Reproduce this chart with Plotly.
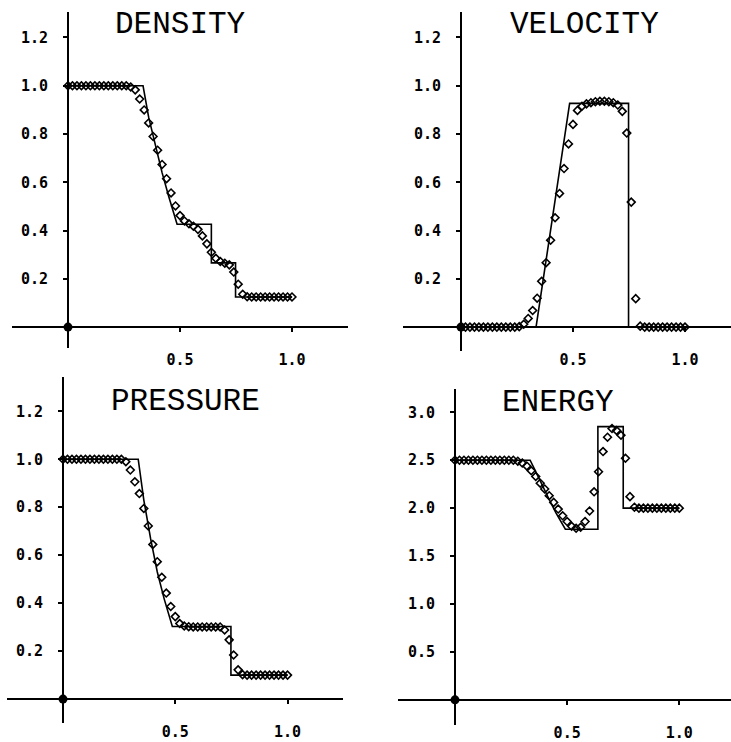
import plotly.graph_objects as go

W, H = 731, 742

# ---------------- data ----------------
x_cells = [0.00, 0.02, 0.04, 0.06, 0.08, 0.10, 0.12, 0.14, 0.16, 0.18,
           0.20, 0.22, 0.24, 0.26, 0.28, 0.30, 0.32, 0.34, 0.36, 0.38,
           0.40, 0.42, 0.44, 0.46, 0.48, 0.50, 0.52, 0.54, 0.56, 0.58,
           0.60, 0.62, 0.64, 0.66, 0.68, 0.70, 0.72, 0.74, 0.76, 0.78,
           0.80, 0.82, 0.84, 0.86, 0.88, 0.90, 0.92, 0.94, 0.96, 0.98, 1.00]

density_num = [1.0, 1.0, 1.0, 1.0, 1.0, 1.0, 1.0, 1.0, 1.0, 1.0,
               1.0, 1.0, 1.0, 1.0, 0.995, 0.983, 0.945, 0.90, 0.846, 0.79,
               0.733, 0.674, 0.615, 0.556, 0.502, 0.462, 0.44, 0.428, 0.418, 0.405,
               0.378, 0.345, 0.31, 0.285, 0.272, 0.265, 0.258, 0.228, 0.178, 0.136,
               0.126, 0.125, 0.125, 0.125, 0.125, 0.125, 0.125, 0.125, 0.125, 0.125, 0.125]

velocity_num = [0.0, 0.0, 0.0, 0.0, 0.0, 0.0, 0.0, 0.0, 0.0, 0.0,
                0.0, 0.0, 0.0, 0.002, 0.012, 0.036, 0.069, 0.12, 0.19, 0.267,
                0.36, 0.453, 0.554, 0.657, 0.759, 0.84, 0.898, 0.915, 0.925, 0.93,
                0.934, 0.936, 0.936, 0.934, 0.93, 0.92, 0.894, 0.804, 0.518, 0.118,
                0.004, 0.0, 0.0, 0.0, 0.0, 0.0, 0.0, 0.0, 0.0, 0.0, 0.0]

pressure_num = [1.0, 1.0, 1.0, 1.0, 1.0, 1.0, 1.0, 1.0, 1.0, 1.0,
                1.0, 1.0, 1.0, 1.0, 0.99, 0.955, 0.906, 0.857, 0.795, 0.722,
                0.645, 0.573, 0.508, 0.442, 0.386, 0.344, 0.315, 0.305, 0.302, 0.301,
                0.301, 0.301, 0.301, 0.301, 0.301, 0.301, 0.288, 0.247, 0.184, 0.122,
                0.102, 0.1, 0.1, 0.1, 0.1, 0.1, 0.1, 0.1, 0.1, 0.1, 0.1]

energy_num = [2.5, 2.5, 2.5, 2.5, 2.5, 2.5, 2.5, 2.5, 2.5, 2.5,
              2.5, 2.5, 2.5, 2.5, 2.49, 2.47, 2.44, 2.39, 2.33, 2.26,
              2.20, 2.13, 2.06, 1.99, 1.92, 1.86, 1.81, 1.79, 1.80, 1.86,
              1.97, 2.17, 2.38, 2.59, 2.74, 2.83, 2.81, 2.76, 2.52, 2.12,
              2.01, 2.0, 2.0, 2.0, 2.0, 2.0, 2.0, 2.0, 2.0, 2.0, 2.0]

density_exact_x = [0.0, 0.335, 0.36, 0.39, 0.42, 0.45, 0.487, 0.64, 0.64, 0.748, 0.748, 1.0]
density_exact_y = [1.0, 1.0, 0.87, 0.75, 0.64, 0.54, 0.426, 0.426, 0.266, 0.266, 0.125, 0.125]

velocity_exact_x = [0.0, 0.335, 0.485, 0.748, 0.748, 1.0]
velocity_exact_y = [0.0, 0.0, 0.927, 0.927, 0.0, 0.0]

pressure_exact_x = [0.0, 0.335, 0.36, 0.39, 0.42, 0.45, 0.487, 0.748, 0.748, 1.0]
pressure_exact_y = [1.0, 1.0, 0.83, 0.67, 0.53, 0.42, 0.303, 0.303, 0.1, 0.1]

energy_exact_x = [0.0, 0.335, 0.36, 0.39, 0.42, 0.45, 0.492, 0.637, 0.637, 0.75, 0.75, 1.0]
energy_exact_y = [2.5, 2.5, 2.38, 2.23, 2.09, 1.95, 1.78, 1.78, 2.85, 2.85, 2.0, 2.0]

titles = ["DENSITY", "VELOCITY", "PRESSURE", "ENERGY"]
x_ticks = [0.5, 1.0]
y_ticks_small = [0.2, 0.4, 0.6, 0.8, 1.0, 1.2]
y_ticks_energy = [0.5, 1.0, 1.5, 2.0, 2.5, 3.0]

# ---------------- layout geometry (pixels) ----------------
panels = [
    dict(x0=68, sx=224, y0=328, sy=242, xl=(12, 348), yl=(12, 349), t=(180, 25)),
    dict(x0=461, sx=224, y0=328, sy=242, xl=(403, 731), yl=(12, 352), t=(584, 25)),
    dict(x0=63, sx=224.5, y0=701, sy=240.5, xl=(7, 343), yl=(378, 725), t=(185, 403)),
    dict(x0=455, sx=224.3, y0=701.7, sy=96.1, xl=(398, 731), yl=(390, 727), t=(558, 404)),
]
num_series = [density_num, velocity_num, pressure_num, energy_num]
exact_series = [(density_exact_x, density_exact_y), (velocity_exact_x, velocity_exact_y),
                (pressure_exact_x, pressure_exact_y), (energy_exact_x, energy_exact_y)]
yticks = [y_ticks_small, y_ticks_small, y_ticks_small, y_ticks_energy]

fig = go.Figure()
tickfont = dict(family="DejaVu Sans Mono", size=15, color="black", weight="bold")

for i, p in enumerate(panels):
    n = i + 1
    xa = "x" if n == 1 else f"x{n}"
    ya = "y" if n == 1 else f"y{n}"
    ex, ey = exact_series[i]
    fig.add_trace(go.Scatter(x=ex, y=ey, mode="lines", xaxis=xa, yaxis=ya,
                             line=dict(color="black", width=1.6), showlegend=False))
    fig.add_trace(go.Scatter(x=x_cells, y=num_series[i], mode="markers", xaxis=xa, yaxis=ya,
                             marker=dict(symbol="diamond-open", size=6,
                                         color="black", line=dict(color="black", width=1.6)),
                             showlegend=False))
    fig.add_trace(go.Scatter(x=[0], y=[0], mode="markers", xaxis=xa, yaxis=ya,
                             marker=dict(symbol="circle", size=9, color="black"),
                             showlegend=False))

    xr = [(p["xl"][0] - p["x0"]) / p["sx"], (p["xl"][1] - p["x0"]) / p["sx"]]
    yr = [(p["y0"] - p["yl"][1]) / p["sy"], (p["y0"] - p["yl"][0]) / p["sy"]]
    xdom = [p["xl"][0] / W, p["xl"][1] / W]
    ydom = [1 - p["yl"][1] / H, 1 - p["yl"][0] / H]
    xkey = "xaxis" if n == 1 else f"xaxis{n}"
    ykey = "yaxis" if n == 1 else f"yaxis{n}"
    fig.layout[xkey] = dict(domain=xdom, range=xr, anchor="free",
                            position=1 - p["y0"] / H,
                            showgrid=False, zeroline=False, showline=True,
                            linecolor="black", linewidth=2,
                            tickvals=x_ticks, tickformat=".1f", ticks="outside",
                            ticklen=4, tickwidth=2, tickcolor="black",
                            tickfont=tickfont, ticklabelstandoff=15, fixedrange=True)
    fig.layout[ykey] = dict(domain=ydom, range=yr, anchor="free",
                            position=p["x0"] / W,
                            showgrid=False, zeroline=False, showline=True,
                            linecolor="black", linewidth=2,
                            tickvals=yticks[i], tickformat=".1f", ticks="outside",
                            ticklen=4, tickwidth=2, tickcolor="black",
                            tickfont=tickfont, ticklabelstandoff=12, fixedrange=True)
    fig.add_annotation(text=titles[i], xref="paper", yref="paper",
                       x=p["t"][0] / W, y=1 - p["t"][1] / H,
                       xanchor="center", yanchor="middle", showarrow=False,
                       font=dict(family="Liberation Mono", size=31, color="black"))

fig.update_layout(width=W, height=H, margin=dict(l=0, r=0, t=0, b=0),
                  paper_bgcolor="white", plot_bgcolor="white", showlegend=False)

fig.write_html("out.html")
